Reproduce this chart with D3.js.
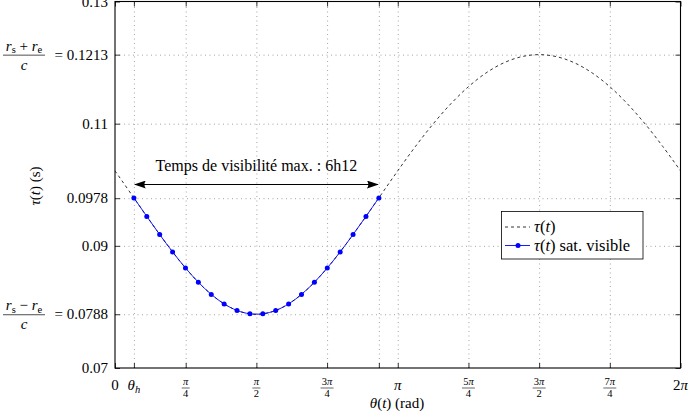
<!DOCTYPE html>
<html><head><meta charset="utf-8">
<script src="https://cdn.jsdelivr.net/npm/d3@7"></script>
<style>
body{margin:0;background:#fff}
svg text{font-family:"Liberation Serif","Times New Roman",serif;fill:#000}
</style>
</head><body>
<svg id="chart" width="688" height="411"></svg>
<script>
// ---------- data ----------
const thetaCurve = [0, 0.1963, 0.3927, 0.5890, 0.7854, 0.9817, 1.1781, 1.3744, 1.5708, 1.7671, 1.9635,
  2.1598, 2.3562, 2.5525, 2.7489, 2.9452, 3.1416, 3.3379, 3.5343, 3.7306, 3.9270, 4.1233, 4.3197,
  4.5160, 4.7124, 4.9087, 5.1051, 5.3014, 5.4978, 5.6941, 5.8905, 6.0868, 6.2832];
const tauCurve = [0.10228, 0.09814, 0.09399, 0.09000, 0.08634, 0.08322, 0.08083, 0.07932, 0.07880,
  0.07932, 0.08083, 0.08322, 0.08634, 0.09000, 0.09399, 0.09814, 0.10228, 0.10626, 0.10995, 0.11324,
  0.11605, 0.11831, 0.11996, 0.12096, 0.12130, 0.12096, 0.11996, 0.11831, 0.11605, 0.11324, 0.10995,
  0.10626, 0.10228];
const thetaVisible = [0.2100, 0.3532, 0.4965, 0.6397, 0.7830, 0.9262, 1.0695, 1.2127, 1.3559, 1.4992,
  1.6424, 1.7857, 1.9289, 2.0721, 2.2154, 2.3586, 2.5019, 2.6451, 2.7884, 2.9316];
const tauVisible = [0.09785, 0.09482, 0.09185, 0.08901, 0.08638, 0.08404, 0.08205, 0.08049, 0.07942, 0.07887,
  0.07887, 0.07942, 0.08049, 0.08205, 0.08404, 0.08638, 0.08901, 0.09185, 0.09482, 0.09785];
const xTickValues = [0, 0.21, 0.7854, 1.5708, 2.3562, 2.9316, 3.1416, 3.9270, 4.7124, 5.4978, 6.2832];
const xTickLabels = ["0", "θh", "π/4", "π/2", "3π/4", "", "π", "5π/4", "3π/2", "7π/4", "2π"];
const yTickValues = [0.07, 0.0788, 0.09, 0.0978, 0.11, 0.1213, 0.13];
const yTickLabels = ["0.07", "0.0788", "0.09", "0.0978", "0.11", "0.1213", "0.13"];
const yTickFractions = {"0.1213": "+", "0.0788": "−"};
const annotation = {from: 0.21, to: 2.9316, text: "Temps de visibilité max. : 6h12"};

// ---------- layout ----------
const L = 115, R = 680.5, T = 1.5, B = 368;
const FONT = '"Liberation Serif", "Times New Roman", serif';
const svg = d3.select("#chart");
const x = d3.scaleLinear().domain([0, 6.2832]).range([L, R]);
const y = d3.scaleLinear().domain([0.07, 0.13]).range([B, T]);

// grid
const gridStyle = g => g.call(s => s.select(".domain").remove())
  .call(s => s.selectAll(".tick line").attr("stroke", "#9a9a9a").attr("stroke-width", 0.9)
     .attr("stroke-dasharray", "1,3.5"));
svg.append("g").attr("transform", `translate(0,${B})`)
  .call(d3.axisBottom(x).tickValues(xTickValues.slice(1, -1)).tickSize(-(B - T)).tickFormat(""))
  .call(gridStyle);
svg.append("g").attr("transform", `translate(${L},0)`)
  .call(d3.axisLeft(y).tickValues(yTickValues.slice(1, -1)).tickSize(-(R - L)).tickFormat(""))
  .call(gridStyle);

// curves
const line = d3.line().x(d => x(d[0])).y(d => y(d[1])).curve(d3.curveCatmullRom.alpha(0.5));
svg.append("path").datum(thetaCurve.map((t, i) => [t, tauCurve[i]]))
  .attr("d", line).attr("fill", "none").attr("stroke", "#000").attr("stroke-width", 0.8)
  .attr("stroke-dasharray", "3,3");
const vis = thetaVisible.map((t, i) => [t, tauVisible[i]]);
svg.append("path").datum(vis)
  .attr("d", line).attr("fill", "none").attr("stroke", "#0000ff").attr("stroke-width", 0.9);
svg.append("g").selectAll("circle").data(vis).join("circle")
  .attr("cx", d => x(d[0])).attr("cy", d => y(d[1])).attr("r", 2.5).attr("fill", "#0000ff");

// axes ticks (inward, mirrored)
const tickStyle = g => g.call(s => s.select(".domain").remove())
  .call(s => s.selectAll(".tick line").attr("stroke", "#000").attr("stroke-width", 0.8));
svg.append("g").attr("transform", `translate(0,${B})`)
  .call(d3.axisBottom(x).tickValues(xTickValues).tickSize(-5).tickFormat("")).call(tickStyle);
svg.append("g").attr("transform", `translate(0,${T})`)
  .call(d3.axisTop(x).tickValues(xTickValues).tickSize(-5).tickFormat("")).call(tickStyle);
svg.append("g").attr("transform", `translate(${L},0)`)
  .call(d3.axisLeft(y).tickValues(yTickValues).tickSize(-5).tickFormat("")).call(tickStyle);
svg.append("g").attr("transform", `translate(${R},0)`)
  .call(d3.axisRight(y).tickValues(yTickValues).tickSize(-5).tickFormat("")).call(tickStyle);
svg.append("rect").attr("x", L).attr("y", T).attr("width", R - L).attr("height", B - T)
  .attr("fill", "none").attr("stroke", "#000").attr("stroke-width", 1.1);

function txt(xx, yy, size, anchor) {
  return svg.append("text").attr("x", xx).attr("y", yy).attr("text-anchor", anchor || "middle")
    .style("font-family", FONT).style("font-size", size + "px");
}

// x tick labels
xTickValues.forEach((v, i) => {
  const lab = xTickLabels[i];
  if (!lab) return;
  const cx = x(v);
  if (lab.includes("/")) {
    const [num, den] = lab.split("/");
    const t = txt(cx, 385, 10.5);
    if (num.length > 1) t.append("tspan").text(num.slice(0, -1));
    t.append("tspan").text("π").style("font-style", "italic");
    const hw = num.length > 1 ? 6.5 : 4;
    svg.append("line").attr("x1", cx - hw).attr("x2", cx + hw)
      .attr("y1", 388).attr("y2", 388).attr("stroke", "#000").attr("stroke-width", 0.6);
    txt(cx, 396.5, 10.5).text(den);
  } else if (lab === "θh") {
    const t = txt(cx, 390, 15);
    t.append("tspan").text("θ").style("font-style", "italic");
    t.append("tspan").text("h").style("font-style", "italic").style("font-size", "10.5px").attr("dy", 3);
  } else {
    const t = txt(cx, 390, 15);
    if (lab.length > 1) t.append("tspan").text(lab.slice(0, -1));
    if (lab.endsWith("π")) t.append("tspan").text("π").style("font-style", "italic");
    else t.text(lab);
  }
});

// y tick labels
yTickValues.forEach((v, i) => {
  const cy = y(v), lab = yTickLabels[i];
  const op = yTickFractions[lab];
  txt(108, cy + 5, 15, "end").text(op ? "= " + lab : lab);
  if (op) {
    const fx = 24;
    const t = txt(fx, cy - 4, 15);
    t.append("tspan").text("r").style("font-style", "italic");
    t.append("tspan").text("s").style("font-size", "10.5px").attr("dy", 2.5);
    t.append("tspan").text(" " + op + " ").attr("dy", -2.5);
    t.append("tspan").text("r").style("font-style", "italic");
    t.append("tspan").text("e").style("font-size", "10.5px").attr("dy", 2.5);
    svg.append("line").attr("x1", 3).attr("x2", 45).attr("y1", cy + 0.5).attr("y2", cy + 0.5)
      .attr("stroke", "#000").attr("stroke-width", 0.7);
    txt(fx, cy + 15, 15).style("font-style", "italic").text("c");
  }
});

// axis titles
const yt = svg.append("text").attr("transform", "translate(40,186) rotate(-90)")
  .attr("text-anchor", "middle").style("font-family", FONT).style("font-size", "15px");
yt.append("tspan").text("τ").style("font-style", "italic");
yt.append("tspan").text("(");
yt.append("tspan").text("t").style("font-style", "italic");
yt.append("tspan").text(")  (s)");
const xt = txt(397, 408, 15);
xt.append("tspan").text("θ").style("font-style", "italic");
xt.append("tspan").text("(");
xt.append("tspan").text("t").style("font-style", "italic");
xt.append("tspan").text(")  (rad)");

// annotation arrow
const defs = svg.append("defs");
["s", "e"].forEach(k => {
  defs.append("marker").attr("id", "arr" + k).attr("viewBox", "0 0 12 8")
    .attr("refX", 11).attr("refY", 4).attr("markerWidth", 12).attr("markerHeight", 8)
    .attr("markerUnits", "userSpaceOnUse").attr("orient", "auto-start-reverse")
    .append("path").attr("d", "M0,0 Q3,4 0,8 L12,4 Z").attr("fill", "#000");
});
const ay = 184.5;
svg.append("line").attr("x1", x(annotation.from) + 1).attr("x2", x(annotation.to) - 1)
  .attr("y1", ay).attr("y2", ay).attr("stroke", "#000").attr("stroke-width", 1.1)
  .attr("marker-start", "url(#arrs)").attr("marker-end", "url(#arre)");
txt((x(annotation.from) + x(annotation.to)) / 2, 171, 16).text(annotation.text);

// legend
const lg = svg.append("g");
lg.append("rect").attr("x", 501.5).attr("y", 211.5).attr("width", 141.5).attr("height", 47.5)
  .attr("fill", "#fff").attr("stroke", "#000").attr("stroke-width", 0.8);
lg.append("line").attr("x1", 505).attr("x2", 530).attr("y1", 227).attr("y2", 227)
  .attr("stroke", "#000").attr("stroke-width", 0.8).attr("stroke-dasharray", "3,3");
lg.append("line").attr("x1", 505).attr("x2", 530).attr("y1", 245.5).attr("y2", 245.5)
  .attr("stroke", "#0000ff").attr("stroke-width", 0.9);
lg.append("circle").attr("cx", 518).attr("cy", 245.5).attr("r", 2.5).attr("fill", "#0000ff");
[[232, ")"], [250.5, ") sat. visible"]].forEach(([yy, rest]) => {
  const t = txt(534, yy, 16.5, "start");
  t.append("tspan").text("τ").style("font-style", "italic");
  t.append("tspan").text("(");
  t.append("tspan").text("t").style("font-style", "italic");
  t.append("tspan").text(rest);
});
</script>
</body></html>
